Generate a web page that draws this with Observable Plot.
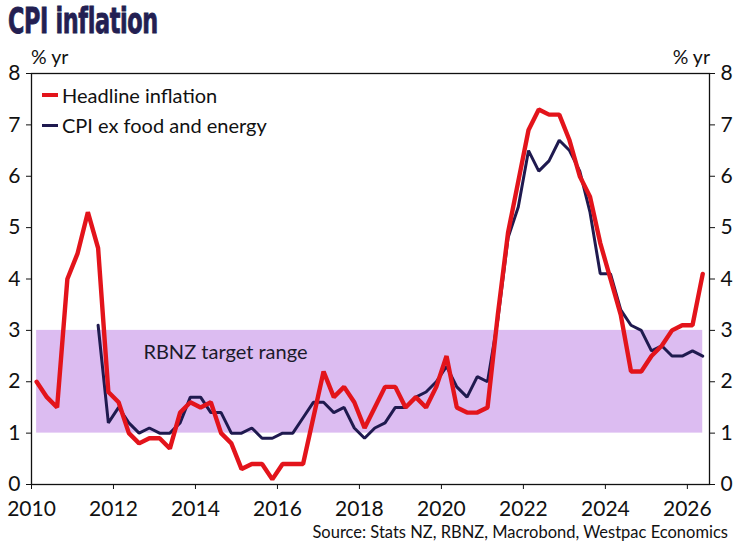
<!DOCTYPE html>
<html><head><meta charset="utf-8">
<script src="https://cdn.jsdelivr.net/npm/d3@7"></script>
<script src="https://cdn.jsdelivr.net/npm/@observablehq/plot@0.6"></script>
<style>
body{margin:0;background:#fff;font-family:Lato,"Open Sans",sans-serif;color:#111;}
#wrap{position:relative;width:740px;height:555px;overflow:hidden;}
#chart{position:absolute;left:0;top:0;}
.abs{position:absolute;white-space:nowrap;line-height:1;}
#title{left:8px;top:4px;font-family:"DejaVu Sans",sans-serif;font-stretch:condensed;font-style:normal;font-weight:bold;font-size:35px;color:#231f52;letter-spacing:-0.5px;transform:scaleX(0.71);transform-origin:0 0;-webkit-text-stroke:0.8px #231f52;}
.unit{font-size:19.5px;top:47px;}
.leg{font-size:20px;left:42px;display:flex;align-items:center;}
.leg .sw{display:inline-block;width:16px;margin-right:4px;}
#source{right:12px;top:524px;font-size:16.5px;}
</style></head><body>
<div id="wrap">
<div id="chart"></div>
<div id="title" class="abs">CPI inflation</div>
<div class="abs unit" style="left:31px;">% yr</div>
<div class="abs unit" style="right:30px;">% yr</div>
<div class="abs leg" style="top:85px;"><span class="sw" style="height:4px;background:#e3141b;"></span>Headline inflation</div>
<div class="abs leg" style="top:115px;"><span class="sw" style="height:3px;background:#1f1a4f;"></span>CPI ex food and energy</div>
<div id="source" class="abs">Source: Stats NZ, RBNZ, Macrobond, Westpac Economics</div>
</div>
<script>
// Quarterly, 2010 Q1 to 2026 Q2, annual % change
const startYear = 2010;
const headline = [
  2.0, 1.7, 1.5, 4.0,
  4.5, 5.3, 4.6, 1.8,
  1.6, 1.0, 0.8, 0.9,
  0.9, 0.7, 1.4, 1.6,
  1.5, 1.6, 1.0, 0.8,
  0.3, 0.4, 0.4, 0.1,
  0.4, 0.4, 0.4, 1.3,
  2.2, 1.7, 1.9, 1.6,
  1.1, 1.5, 1.9, 1.9,
  1.5, 1.7, 1.5, 1.9,
  2.5, 1.5, 1.4, 1.4,
  1.5, 3.3, 4.9, 5.9,
  6.9, 7.3, 7.2, 7.2,
  6.7, 6.0, 5.6, 4.7,
  4.0, 3.3, 2.2, 2.2,
  2.5, 2.7, 3.0, 3.1,
  3.1, 4.1
];
const coreEx = [
  null, null, null, null,
  null, null, 3.1, 1.2,
  1.5, 1.2, 1.0, 1.1,
  1.0, 1.0, 1.2, 1.7,
  1.7, 1.4, 1.4, 1.0,
  1.0, 1.1, 0.9, 0.9,
  1.0, 1.0, 1.3, 1.6,
  1.6, 1.4, 1.5, 1.1,
  0.9, 1.1, 1.2, 1.5,
  1.5, 1.7, 1.8, 2.0,
  2.3, 1.9, 1.7, 2.1,
  2.0, 3.2, 4.8, 5.4,
  6.5, 6.1, 6.3, 6.7,
  6.5, 6.1, 5.3, 4.1,
  4.1, 3.4, 3.1, 3.0,
  2.6, 2.7, 2.5, 2.5,
  2.6, 2.5
];
const targetRange = [1, 3];
const bandLabel = "RBNZ target range";
const bandLabelAt = [2012.73, 2.57];
const xDomain = [2010, 2026.54];
const yDomain = [0, 8];
const xTicks = [2010, 2012, 2014, 2016, 2018, 2020, 2022, 2024, 2026];
const yTicks = [0, 1, 2, 3, 4, 5, 6, 7, 8];

const dates = headline.map((_, i) => startYear + i / 4 + 0.125);
const rows = dates.map((t, i) => ({t, headline: headline[i], core: coreEx[i]}));
const band = [{x1: dates[0], x2: dates[dates.length - 1], y1: targetRange[0], y2: targetRange[1]}];

const chart = Plot.plot({
  width: 740, height: 555,
  marginTop: 73, marginBottom: 71, marginLeft: 31, marginRight: 31,
  style: {fontFamily: "Lato, 'Open Sans', sans-serif", fontSize: "20px", color: "#111", background: "transparent"},
  x: {domain: xDomain},
  y: {domain: yDomain},
  marks: [
    Plot.rect(band, {x1: "x1", x2: "x2", y1: "y1", y2: "y2", fill: "#dcbcf1"}),
    Plot.text([bandLabel], {x: () => bandLabelAt[0], y: () => bandLabelAt[1], text: d => d, textAnchor: "start", fontSize: 20, fill: "#1a1a2a"}),
    Plot.line(rows.filter(d => d.core != null), {x: "t", y: "core", stroke: "#1f1a4f", strokeWidth: 3, strokeLinejoin: "miter"}),
    Plot.line(rows, {x: "t", y: "headline", stroke: "#e3141b", strokeWidth: 4.4, strokeLinejoin: "miter"}),
    Plot.axisY({ticks: yTicks, anchor: "left", tickSize: 5, tickPadding: 6, label: null, fontSize: 21}),
    Plot.axisY({ticks: yTicks, anchor: "right", tickSize: 5, tickPadding: 6, label: null, fontSize: 21}),
    Plot.axisX({ticks: xTicks, tickFormat: "d", tickSize: 5, tickPadding: 12, label: null, fontSize: 21}),
    Plot.frame({stroke: "#111", strokeWidth: 1.3})
  ]
});
document.getElementById("chart").appendChild(chart);
</script>
</body></html>
